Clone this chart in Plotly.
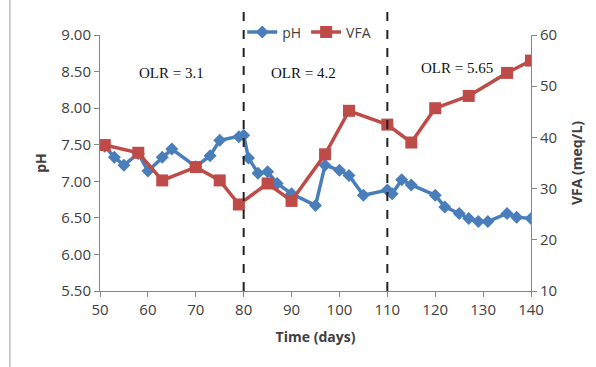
import plotly.graph_objects as go

ph_days = [51, 53, 55, 58, 60, 63, 65, 70, 73, 75, 79, 80, 81, 83, 85, 87, 90, 95, 97, 100, 102, 105, 110, 111, 113, 115, 120, 122, 125, 127, 129, 131, 135, 137, 140]
ph_vals = [7.48, 7.33, 7.22, 7.38, 7.14, 7.33, 7.44, 7.20, 7.35, 7.56, 7.61, 7.63, 7.32, 7.11, 7.13, 6.97, 6.83, 6.67, 7.22, 7.15, 7.08, 6.81, 6.88, 6.83, 7.02, 6.95, 6.81, 6.65, 6.56, 6.49, 6.45, 6.45, 6.56, 6.51, 6.49]

vfa_days = [51, 58, 63, 70, 75, 79, 85, 90, 97, 102, 110, 115, 120, 127, 135, 140]
vfa_vals = [38.5, 37.0, 31.6, 34.2, 31.6, 26.9, 31.0, 27.6, 36.7, 45.2, 42.5, 39.0, 45.7, 48.1, 52.6, 55.0]

x_ticks = [50, 60, 70, 80, 90, 100, 110, 120, 130, 140]
ph_ticks = [5.5, 6.0, 6.5, 7.0, 7.5, 8.0, 8.5, 9.0]
vfa_ticks = [10, 20, 30, 40, 50, 60]
phase_bounds = [80, 110]
olr_labels = ["OLR = 3.1", "OLR = 4.2", "OLR = 5.65"]
olr_x = [65, 92.5, 124.5]
olr_y = [8.48, 8.48, 8.55]

BLUE = "#4A7EBB"
RED = "#BE4B48"
AXIS = "#868686"
TXT = "#404040"
FONT = "Open Sans"

fig = go.Figure()
fig.add_trace(go.Scatter(x=ph_days, y=ph_vals, name="pH", mode="lines+markers",
                         line=dict(color=BLUE, width=3.5),
                         marker=dict(symbol="diamond", size=10, color=BLUE)))
fig.add_trace(go.Scatter(x=vfa_days, y=vfa_vals, name="VFA", mode="lines+markers", yaxis="y2",
                         line=dict(color=RED, width=3.5),
                         marker=dict(symbol="square", size=12, color=RED)))

for b in phase_bounds:
    fig.add_shape(type="line", xref="x", yref="paper", x0=b, x1=b, y0=0, y1=1.12,
                  line=dict(color="#222222", width=2, dash="dash"))

for t, x, y in zip(olr_labels, olr_x, olr_y):
    fig.add_annotation(x=x, y=y, text=t, showarrow=False,
                       font=dict(family="Liberation Serif", size=15, color="#111111"))

fig.add_shape(type="line", xref="paper", yref="paper", x0=-0.209, x1=-0.209, y0=-0.3, y1=1.14,
              line=dict(color="#9a9a9a", width=1))

fig.update_layout(
    width=596, height=367,
    margin=dict(l=100, r=65, t=35, b=76),
    paper_bgcolor="white", plot_bgcolor="white",
    font=dict(family=FONT, size=15, color=TXT),
    showlegend=True,
    legend=dict(orientation="h", x=0.33, y=1.01, xanchor="left", yanchor="middle",
                bgcolor="rgba(0,0,0,0)", font=dict(size=14, color=TXT),
                itemwidth=30, tracegroupgap=0),
    xaxis=dict(range=[50, 140], tickvals=x_ticks, showgrid=False, zeroline=False,
               showline=True, linecolor=AXIS, linewidth=1, ticks="outside", ticklen=5,
               tickcolor=AXIS, tickfont=dict(size=15, color=TXT),
               title=dict(text="<b>Time (days)</b>", font=dict(size=14, color=TXT), standoff=14)),
    yaxis=dict(range=[5.5, 9.0], tickvals=ph_ticks, tickformat=".2f", showgrid=False, zeroline=False,
               showline=True, linecolor=AXIS, linewidth=1, ticks="outside", ticklen=5,
               tickcolor=AXIS, tickfont=dict(size=15, color=TXT),
               title=dict(text="<b>pH</b>", font=dict(size=14, color=TXT), standoff=11)),
    yaxis2=dict(range=[10, 60], tickvals=vfa_ticks, overlaying="y", side="right", showgrid=False,
                zeroline=False, showline=True, linecolor=AXIS, linewidth=1, ticks="outside",
                ticklen=5, tickcolor=AXIS, tickfont=dict(size=15, color=TXT),
                title=dict(text="<b>VFA (meq/L)</b>", font=dict(size=14, color=TXT), standoff=16)),
)

fig.write_html("out.html")
